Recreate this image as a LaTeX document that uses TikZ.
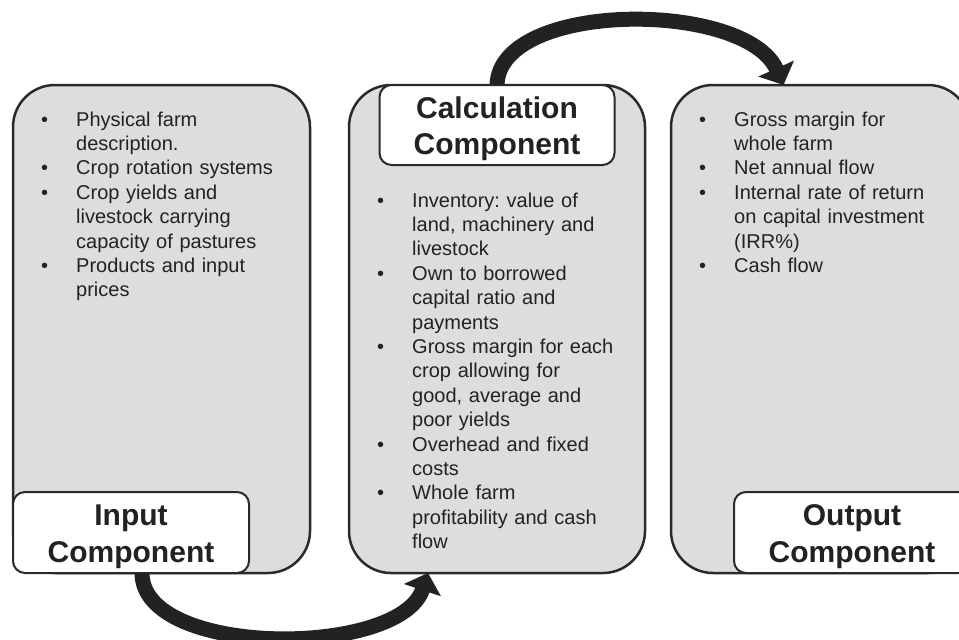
\documentclass[tikz,border=0pt]{standalone}
\usepackage{fontspec}
\setmainfont{Liberation Sans}
\usepackage{enumitem}
\usetikzlibrary{arrows.meta,positioning}
\definecolor{panelgray}{HTML}{DDDDDD}
\definecolor{edge}{HTML}{2A2A2A}
\definecolor{ink}{HTML}{222222}
\frenchspacing
\setlist[itemize]{label=\textbullet, leftmargin=35pt, labelwidth=35pt, labelindent=0pt, labelsep=0pt, align=left, itemsep=0pt, topsep=0pt, parsep=0pt, partopsep=0pt}
\tikzset{
  panel/.style={draw=edge, fill=panelgray, line width=2.5pt, rounded corners=42pt, inner sep=0pt, outer sep=0pt, minimum height=488pt},
  tag/.style={draw=edge, fill=white, line width=2pt, rounded corners=12pt, inner sep=0pt, outer sep=0pt, minimum width=236pt, minimum height=81pt, align=center, text=ink, font=\bfseries\fontsize{30}{36.5}\selectfont},
  listtext/.style={anchor=north west, inner sep=0pt, text width=240pt, align=left, text=ink, font=\fontsize{20}{24.4}\selectfont},
  flow/.style={draw=ink, line width=15pt, -{Triangle[width=38pt,length=18pt]}}
}
\begin{document}
\begin{tikzpicture}[x=1pt,y=-1pt,line join=round]
\useasboundingbox (0,0) rectangle (959,640);
\clip (0,0) rectangle (959,640);
\node[panel, minimum width=297pt] (inPanel) at (161.5,329) {};
\node[panel, minimum width=296pt] (calcPanel) at (497,329) {};
\node[panel, minimum width=299pt] (outPanel) at (820.5,329) {};
\node[tag, anchor=south west] (inTag) at (inPanel.south west) {\rule{0pt}{0pt}\\[-7pt]Input\\Component};
\node[tag, anchor=north, minimum width=235pt, minimum height=80pt] (calcTag) at (calcPanel.north) {\rule{0pt}{0pt}\\[-7pt]Calculation\\Component};
\node[tag, anchor=south east] (outTag) at (outPanel.south east) {\rule{0pt}{0pt}\\[-7pt]Output\\Component};
\node[listtext] (inList) at (41,101.5) {\begin{itemize}
\item Physical farm\\ description.
\item Crop rotation systems
\item Crop yields and\\ livestock carrying\\ capacity of pastures
\item Products and input\\ prices
\end{itemize}};
\node[listtext] (calcList) at (377,182.5) {\begin{itemize}
\item Inventory: value of\\ land, machinery and\\ livestock
\item Own to borrowed\\ capital ratio and\\ payments
\item Gross margin for each\\ crop allowing for\\ good, average and\\ poor yields
\item Overhead and fixed\\ costs
\item Whole farm\\ profitability and cash\\ flow
\end{itemize}};
\node[listtext] (outList) at (699,101.5) {\begin{itemize}
\item Gross margin for\\ whole farm
\item Net annual flow
\item Internal rate of return\\ on capital investment\\ (IRR\%)
\item Cash flow
\end{itemize}};
\draw[flow] (calcTag.north) .. controls +(2.5,-85) and +(-38,-85) .. ([xshift=-37pt]outPanel.north);
\draw[flow] ([xshift=11pt]inTag.south) .. controls +(0,85) and +(-28,85) .. ([xshift=-69pt]calcPanel.south);
\end{tikzpicture}
\end{document}
